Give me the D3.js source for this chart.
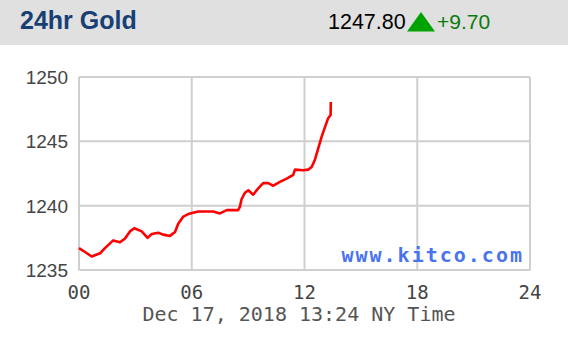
<!DOCTYPE html>
<html>
<head>
<meta charset="utf-8">
<script src="https://cdn.jsdelivr.net/npm/d3@7"></script>
<style>
  body { margin: 0; background: #fff; }
  svg { display: block; }
</style>
</head>
<body>
<div id="chart"></div>
<script>
// gold price, hours since midnight NY time
const hours = [0.00, 0.32, 0.68, 1.12, 1.38, 1.82, 2.18, 2.45, 2.71, 2.94,
  3.34, 3.65, 3.87, 4.22, 4.48, 4.84, 5.11, 5.28, 5.55, 5.81,
  6.08, 6.35, 7.14, 7.50, 7.86, 8.47, 8.56, 8.65, 8.83, 9.01,
  9.27, 9.54, 9.80, 10.07, 10.34, 10.69, 11.05, 11.40, 11.49, 11.93,
  12.20, 12.38, 12.55, 12.73, 12.91, 13.09, 13.26, 13.39, 13.40];
const prices = [1236.7, 1236.4, 1236.05, 1236.3, 1236.7, 1237.3, 1237.15, 1237.45, 1238.0, 1238.25,
  1238.0, 1237.5, 1237.8, 1237.9, 1237.75, 1237.65, 1237.95, 1238.6, 1239.15, 1239.35,
  1239.45, 1239.55, 1239.55, 1239.4, 1239.65, 1239.65, 1239.9, 1240.5, 1241.0, 1241.2,
  1240.85, 1241.35, 1241.75, 1241.75, 1241.55, 1241.85, 1242.1, 1242.4, 1242.8, 1242.75,
  1242.8, 1243.0, 1243.55, 1244.45, 1245.35, 1246.1, 1246.8, 1247.05, 1248.05];
const xTicks = [0, 6, 12, 18, 24];
const yTicks = [1235, 1240, 1245, 1250];
const title = '24hr Gold';
const lastPrice = '1247.80';
const change = '+9.70';
const stamp = 'Dec 17, 2018 13:24 NY Time';

const width = 568, height = 338;
const plot = { left: 79, right: 530, top: 77, bottom: 270 };

const svg = d3.select('#chart').append('svg')
  .attr('width', width).attr('height', height);

// header band
svg.append('rect').attr('width', width).attr('height', 45).attr('fill', '#e0e0e0');
svg.append('text').attr('x', 20).attr('y', 29)
  .attr('font-family', 'Liberation Sans, Arial, sans-serif')
  .attr('font-weight', 'bold').attr('font-size', 25)
  .attr('fill', '#173f74').text(title);
svg.append('text').attr('x', 328).attr('y', 29)
  .attr('font-family', 'Liberation Sans, Arial, sans-serif')
  .attr('font-size', 21.5).attr('fill', '#000').text(lastPrice);
svg.append('path').attr('d', 'M407,31.5 L421,12 L435,31.5 Z').attr('fill', '#00a300');
svg.append('text').attr('x', 437).attr('y', 29)
  .attr('font-family', 'Liberation Sans, Arial, sans-serif')
  .attr('font-size', 21).attr('fill', '#0b7a0b').text(change);

const x = d3.scaleLinear().domain([0, 24]).range([plot.left, plot.right]);
const y = d3.scaleLinear().domain([1235, 1250]).range([plot.bottom, plot.top]);

// grid
const grid = svg.append('g').attr('stroke', '#cfcfcf').attr('stroke-width', 2);
grid.selectAll('.vg').data(xTicks).enter().append('line')
  .attr('x1', d => x(d)).attr('x2', d => x(d))
  .attr('y1', plot.top).attr('y2', plot.bottom);
grid.selectAll('.hg').data(yTicks).enter().append('line')
  .attr('x1', plot.left).attr('x2', plot.right)
  .attr('y1', d => y(d)).attr('y2', d => y(d));

// y labels
svg.append('g').selectAll('text').data(yTicks).enter().append('text')
  .attr('x', 68).attr('y', d => y(d) + 7)
  .attr('text-anchor', 'end')
  .attr('font-family', 'Liberation Sans, Arial, sans-serif')
  .attr('font-size', 19).attr('fill', '#444')
  .text(d => d);

// x labels
svg.append('g').selectAll('text').data(xTicks).enter().append('text')
  .attr('x', d => x(d)).attr('y', 299)
  .attr('text-anchor', 'middle')
  .attr('font-family', 'DejaVu Sans Mono, monospace')
  .attr('font-size', 19).attr('fill', '#444')
  .text(d => d3.format('02d')(d));

svg.append('text').attr('x', 299).attr('y', 321)
  .attr('text-anchor', 'middle')
  .attr('font-family', 'DejaVu Sans Mono, monospace')
  .attr('font-size', 20).attr('fill', '#555')
  .text(stamp);

// watermark
svg.append('text').attr('x', 524).attr('y', 262)
  .attr('text-anchor', 'end')
  .attr('font-family', 'DejaVu Sans Mono, monospace')
  .attr('font-weight', 'bold').attr('font-size', 20)
  .attr('letter-spacing', 2)
  .attr('fill', '#4a73f0').text('www.kitco.com');

// price line
const line = d3.line().x(d => x(d[0])).y(d => y(d[1]));
svg.append('path')
  .datum(hours.map((h, i) => [h, prices[i]]))
  .attr('d', line)
  .attr('fill', 'none').attr('stroke', '#ff0000')
  .attr('stroke-width', 2.6).attr('stroke-linejoin', 'round');
</script>
</body>
</html>
